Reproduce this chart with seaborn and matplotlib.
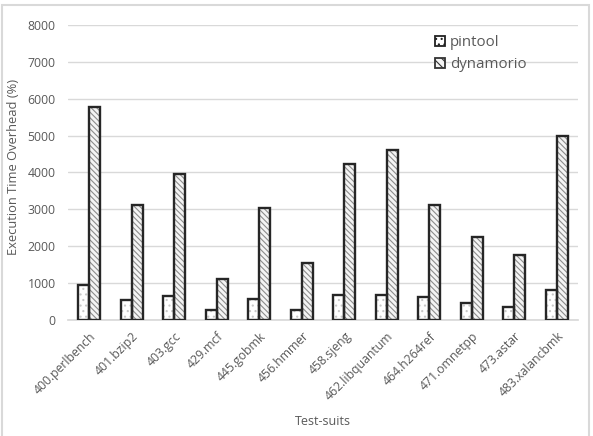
import matplotlib
matplotlib.use("Agg")
import matplotlib.pyplot as plt
from matplotlib.patches import Rectangle, Patch
import seaborn as sns
import pandas as pd

categories = ["400.perlbench", "401.bzip2", "403.gcc", "429.mcf", "445.gobmk", "456.hmmer",
              "458.sjeng", "462.libquantum", "464.h264ref", "471.omnetpp", "473.astar", "483.xalancbmk"]
pintool = [950, 530, 650, 260, 570, 280, 680, 680, 620, 450, 340, 820]
dynamorio = [5780, 3130, 3970, 1100, 3030, 1550, 4230, 4620, 3130, 2260, 1750, 4980]
series = ["pintool", "dynamorio"]
yticks = [0, 1000, 2000, 3000, 4000, 5000, 6000, 7000, 8000]

df = pd.DataFrame({
    "suite": categories * 2,
    "value": pintool + dynamorio,
    "tool": [series[0]] * len(categories) + [series[1]] * len(categories),
})

sns.set_theme(style="white")
plt.rcParams["font.family"] = ["Open Sans", "DejaVu Sans"]
plt.rcParams["hatch.linewidth"] = 0.8
text_color = "#595959"

fig = plt.figure(figsize=(5.93, 4.36), dpi=100)
ax = fig.add_axes([0.115, 0.266, 0.86, 0.677])

sns.barplot(data=df, x="suite", y="value", hue="tool", order=categories, hue_order=series,
            palette=["white", "#f4f4f4"], width=0.52, gap=0, legend=False, ax=ax)

hatches = {0: "...", 1: "\\\\\\\\\\\\"}
hcolors = {0: "#c8c8c8", 1: "#8c8c8c"}
n = len(categories)
for i, p in enumerate(ax.patches[: 2 * n]):
    s = i // n
    p.set_hatch(hatches[s])
    p.set_edgecolor(hcolors[s])
    p.set_linewidth(0)
    ax.add_patch(Rectangle((p.get_x(), p.get_y()), p.get_width(), p.get_height(),
                           fill=False, edgecolor="#262626", linewidth=1.7, zorder=3))

ax.set_ylim(0, 8000)
ax.set_yticks(yticks)
ax.set_yticklabels([str(t) for t in yticks], fontsize=8.8, color=text_color)
ax.set_xlim(-0.5, n - 0.5)
ax.set_xticks(range(n))
ax.set_xticklabels(categories, rotation=45, ha="right", rotation_mode="anchor",
                   fontsize=8.8, color=text_color)
ax.tick_params(axis="y", length=0, pad=9)
ax.tick_params(axis="x", length=0, pad=7)
ax.yaxis.grid(True, color="#d9d9d9", linewidth=1)
ax.set_axisbelow(True)
for sp in ["top", "right", "left"]:
    ax.spines[sp].set_visible(False)
ax.spines["bottom"].set_color("#d9d9d9")
ax.set_xlabel("Test-suits", fontsize=9, color=text_color, labelpad=9)
ax.set_ylabel("Execution Time Overhead (%)", fontsize=9.3, color=text_color, labelpad=4)
ax.yaxis.set_label_coords(-0.095, 0.52)

handles = [
    Patch(facecolor="white", edgecolor="#222222", hatch="...", linewidth=1.3),
    Patch(facecolor="#f4f4f4", edgecolor="#333333", hatch="\\\\\\\\", linewidth=1.3),
]
leg = ax.legend(handles, series, loc="upper left", bbox_to_anchor=(0.707, 0.985),
                frameon=False, fontsize=10.8, handlelength=0.7, handleheight=0.7,
                handletextpad=0.3, labelspacing=0.45, borderaxespad=0)
for t in leg.get_texts():
    t.set_color(text_color)

fig.patches.append(Rectangle((0.003, -0.05), 0.99, 1.039, transform=fig.transFigure,
                             fill=False, edgecolor="#d9d9d9", linewidth=1.5))

fig.savefig("out.png", dpi=100)
